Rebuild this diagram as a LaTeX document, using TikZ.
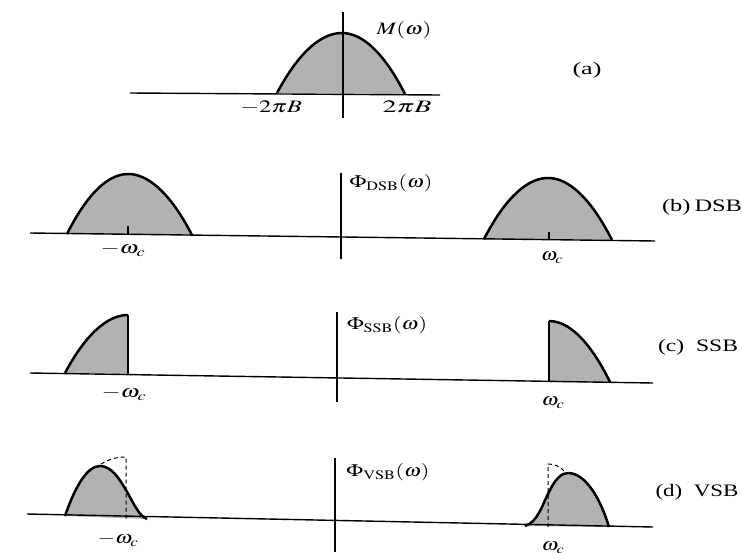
\documentclass[tikz,border=0pt]{standalone}
\usepackage{mathptmx}
\usepackage{fontspec}
\setmainfont{Liberation Serif}
\newcommand{\fitw}[2]{\resizebox{#1pt}{\height}{#2}}
\begin{document}
\begin{tikzpicture}[x=1pt,y=-1pt,
  lbl/.style={font=\fontsize{17.5}{20}\selectfont, inner sep=0pt},
  axisline/.style={line width=1.4pt},
  hump/.style={fill=black!30, draw=black, line width=2.5pt, line join=round},
  humpfill/.style={fill=black!30, draw=none},
  humpedge/.style={draw=black, line width=2.5pt},
  thinedge/.style={draw=black, line width=1.1pt},
  dashline/.style={draw=black, line width=1pt, dash pattern=on 4pt off 3pt},
  ticklin/.style={line width=1.1pt}]
\useasboundingbox (0,0) rectangle (742,552);

% ---------- (a) ----------
\draw[hump] (277,93) parabola bend (342,33) (405,94);
\draw[axisline] (130,93) -- (440,95);
\draw[axisline] (343,12) -- (343,118);
\node[lbl] (Ma) at (404,30) {\fitw{55}{$M(\omega)$}};
\node[lbl] (m2b) at (271,107) {\fitw{62}{$-2\pi B$}};
\node[lbl] (p2b) at (407,107) {\fitw{49}{$2\pi B$}};
\node[lbl] (la) at (587,70) {\fitw{29}{(a)}};

% ---------- (b) DSB ----------
\draw[hump] (67,234) parabola bend (128,174) (192,235);
\draw[hump] (484,239) parabola bend (548,178) (612,240);
\draw[axisline] (30,233) -- (655,241);
\draw[ticklin] (128,234) -- (128,226);
\draw[ticklin] (549,240) -- (549,232);
\draw[axisline] (341,173) -- (341,259);
\node[lbl] (phid) at (391,183) {\fitw{83}{$\Phi_{\mathrm{DSB}}(\omega)$}};
\node[lbl] (wbl) at (123,250) {\fitw{45}{$-\omega_c$}};
\node[lbl] (wbr) at (552,258) {\fitw{22}{$\omega_c$}};
\node[lbl] (lb) at (702,207) {\fitw{80}{(b)\,DSB}};

% ---------- (c) SSB ----------
\fill[humpfill] (65,373) parabola[bend at end] (128,315) -- (128,374) -- cycle;
\draw[humpedge] (65,373) parabola[bend at end] (128,315);
\draw[thinedge] (128,315) -- (128,374);
\fill[humpfill] (549,382) -- (549,321) parabola (610,382) -- cycle;
\draw[humpedge] (549,321) parabola (610,382);
\draw[thinedge] (549,321) -- (549,382);
\draw[axisline] (30,373) -- (653,383);
\draw[axisline] (337,312) -- (337,402);
\node[lbl] (phis) at (387,325) {\fitw{80}{$\Phi_{\mathrm{SSB}}(\omega)$}};
\node[lbl] (wcl) at (124,394) {\fitw{45}{$-\omega_c$}};
\node[lbl] (wcr) at (553,403) {\fitw{23}{$\omega_c$}};
\node[lbl] (lc) at (698,347) {\fitw{80}{(c)\enspace SSB}};

% ---------- (d) VSB ----------
\draw[hump] (65,516) .. controls (76,484) and (88,466) .. (100,466)
  .. controls (112,466) and (120,480) .. (126,490)
  .. controls (134,504) and (139,516) .. (147,519);
\draw[dashline] (101,464) .. controls (111,458) and (119,457) .. (126,457) -- (126,519);
\draw[hump] (525,526) .. controls (538,522) and (542,505) .. (550,490)
  .. controls (556,478) and (562,473) .. (568,473)
  .. controls (586,473) and (601,500) .. (609,527);
\draw[dashline] (548,527) -- (548,464) .. controls (554,464) and (560,466) .. (564,471);
\draw[axisline] (27,514) -- (653,527);
\draw[axisline] (335,458) -- (335,552);
\node[lbl] (phiv) at (388,472) {\fitw{83}{$\Phi_{\mathrm{VSB}}(\omega)$}};
\node[lbl] (wdl) at (118,540) {\fitw{41}{$-\omega_c$}};
\node[lbl] (wdr) at (553,548) {\fitw{23}{$\omega_c$}};
\node[lbl] (ld) at (697,492) {\fitw{83}{(d)\enspace VSB}};
\end{tikzpicture}
\end{document}
